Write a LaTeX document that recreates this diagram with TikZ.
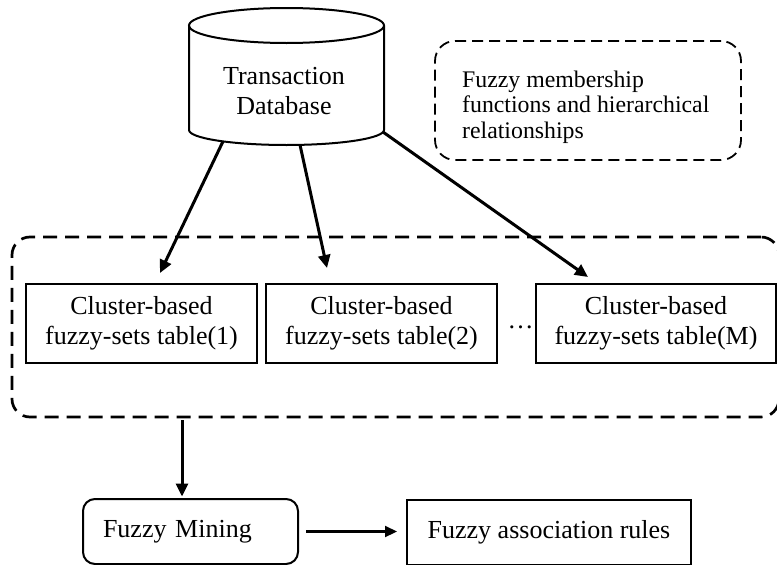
\documentclass[tikz,border=0pt]{standalone}
\usepackage{fontspec}
\setmainfont{Liberation Serif}
\usetikzlibrary{arrows.meta}
\begin{document}
\begin{tikzpicture}[x=1pt,y=-1pt,
  every node/.style={font=\fontsize{26}{30}\selectfont, inner sep=0pt},
  solidbox/.style={draw, line width=2pt, align=center},
  dashbig/.style={draw, line width=2.7pt, dash pattern=on 14pt off 8pt},
  dashsmall/.style={draw, line width=1.8pt, dash pattern=on 11pt off 6pt, rounded corners=20pt},
  flow/.style={line width=3pt, -{Triangle[length=13pt,width=12pt]}},
  flowthin/.style={line width=2.2pt, -{Triangle[length=12pt,width=11pt]}},
  cyl/.style={line width=2pt}]
\useasboundingbox (0,0) rectangle (777,565);
\clip (0,0) rectangle (777,565);

% database cylinder
\draw[cyl] (286.5,25.5) ellipse [x radius=97.5, y radius=17.5];
\draw[cyl] (189,25.5) -- (189,130) arc[start angle=180, end angle=0, x radius=97.5, y radius=15] -- (384,25.5);
\node[align=center] (db) at (284,91) {Transaction\\Database};
\coordinate (db1) at (223,141.4);
\coordinate (db2) at (300,144.9);
\coordinate (db3) at (383,132);

% membership functions note
\node[dashsmall, minimum width=306pt, minimum height=119pt] (fm) at (588,100.5) {};
\node[font=\fontsize{23.8}{25.5}\selectfont, align=left, anchor=west] (fmtext) at (462,107)
  {Fuzzy membership\\functions and hierarchical\\relationships};

% group of cluster-based tables
\node[dashbig, rounded corners=18pt, minimum width=767pt, minimum height=180pt] (clus) at (395.5,327) {};
\node[solidbox, minimum width=231pt, minimum height=79pt] (t1) at (141.5,323.5) {Cluster-based\\fuzzy-sets table(1)};
\node[solidbox, minimum width=231pt, minimum height=79pt] (t2) at (381.5,323.5) {Cluster-based\\fuzzy-sets table(2)};
\node[solidbox, minimum width=240pt, minimum height=79pt] (tM) at (656,323.5) {Cluster-based\\fuzzy-sets table(M)};
\node (dots) at (520.5,327.5) {…};

\coordinate (e1) at (160,273);
\coordinate (e2) at (327,268);
\coordinate (e3) at (588,277);
\draw[flow] (db1) -- (e1);
\draw[flow] (db2) -- (e2);
\draw[flow] (db3) -- (e3);

% mining stage
\node[solidbox, rounded corners=12pt, minimum width=215pt, minimum height=65pt, text width=175pt, align=left] (fmine) at (190.5,531.5) {Fuzzy Mining};
\node[solidbox, minimum width=284pt, minimum height=65pt] (far) at (549,532.5) {Fuzzy association rules};

\coordinate (c1) at (182,420);
\draw[flow, shorten >=1.5pt] (c1) -- (c1 |- fmine.north);
\draw[flowthin, shorten <=7pt, shorten >=9pt] (fmine.east) -- (fmine.east -| far.west);
\end{tikzpicture}
\end{document}
